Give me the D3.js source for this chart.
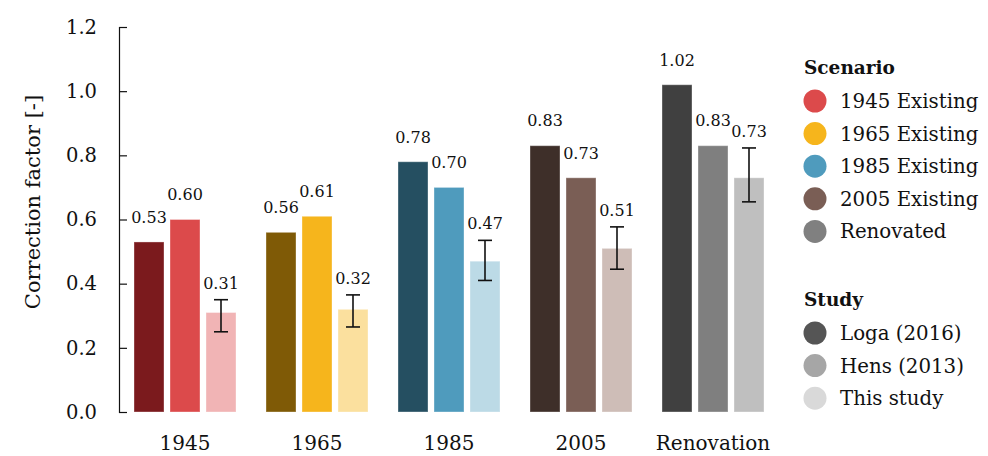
<!DOCTYPE html>
<html>
<head>
<meta charset="utf-8">
<script src="https://cdn.jsdelivr.net/npm/d3@7"></script>
<style>
  body { margin: 0; background: #fff; }
  svg text { font-family: "DejaVu Serif", serif; fill: #111; }
</style>
</head>
<body>
<div id="chart"></div>
<script>
// data
var groups = ["1945", "1965", "1985", "2005", "Renovation"];
var studies = ["Loga (2016)", "Hens (2013)", "This study"];
var loga  = [0.53, 0.56, 0.78, 0.83, 1.02];
var hens  = [0.60, 0.61, 0.70, 0.73, 0.83];
var ours  = [0.31, 0.32, 0.47, 0.51, 0.73];
var errLow  = [0.25, 0.265, 0.41, 0.445, 0.655];
var errHigh = [0.35, 0.365, 0.535, 0.577, 0.823];
var yTicks = [0, 0.2, 0.4, 0.6, 0.8, 1.0, 1.2];

// colours per group, one per study (dark, mid, light)
var groupColors = [
  ["#7b1a1d", "#dc4a4b", "#f1b4b5"],
  ["#7f5a06", "#f6b51c", "#fbe09e"],
  ["#254f61", "#4f9bbd", "#bcdae6"],
  ["#3e2f29", "#7a5e55", "#cebdb7"],
  ["#404040", "#7f7f7f", "#bfbfbf"]
];
var scenarioLabels = ["1945 Existing", "1965 Existing", "1985 Existing", "2005 Existing", "Renovated"];
var scenarioColors = ["#dc4a4b", "#f6b51c", "#4f9bbd", "#7a5e55", "#808080"];
var studyColors = ["#555555", "#a6a6a6", "#d9d9d9"];

var width = 988, height = 456;
var svg = d3.select("#chart").append("svg")
    .attr("width", width)
    .attr("height", height);

// scales
var x0 = d3.scaleBand()
    .domain(groups)
    .range([118, 780])
    .paddingInner(30 / 132)
    .paddingOuter(16 / 132);
var x1 = d3.scaleBand()
    .domain(d3.range(3))
    .range([0, x0.bandwidth()])
    .paddingInner(6 / 36);
var y = d3.scaleLinear().domain([0, 1.2]).range([412, 27]);

// y axis, ticks pointing inward
var yAxis = svg.append("g")
    .attr("class", "axis axis--y")
    .attr("transform", "translate(119,0)")
    .call(d3.axisLeft(y).tickValues(yTicks).tickSize(-8).tickPadding(22)
          .tickFormat(d3.format(".1f")));
yAxis.selectAll("path, line").attr("stroke", "#111").attr("stroke-width", 1.2);
yAxis.selectAll("text").attr("font-size", 19.5).attr("font-family", "DejaVu Serif").attr("fill", "#111");

svg.append("text")
    .attr("transform", "translate(40,202) rotate(-90)")
    .attr("text-anchor", "middle")
    .attr("font-size", 21)
    .text("Correction factor [-]");

// x axis labels only
var xAxis = svg.append("g")
    .attr("class", "axis axis--x")
    .attr("transform", "translate(0,450)")
    .call(d3.axisBottom(x0).tickSize(0).tickPadding(0));
xAxis.select(".domain").remove();
xAxis.selectAll("text").attr("font-size", 20).attr("font-family", "DejaVu Serif")
    .attr("fill", "#111").attr("dy", "0");

// turn data into rows
var rows = [];
groups.forEach(function(g, i) {
  [loga[i], hens[i], ours[i]].forEach(function(v, j) {
    rows.push({group: g, gi: i, study: j, value: v});
  });
});

var bars = svg.append("g").attr("class", "bars");
bars.selectAll("rect").data(rows).enter().append("rect")
    .attr("x", function(d) { return x0(d.group) + x1(d.study); })
    .attr("width", x1.bandwidth())
    .attr("y", function(d) { return y(d.value); })
    .attr("height", function(d) { return y(0) - y(d.value); })
    .attr("fill", function(d) { return groupColors[d.gi][d.study]; })
    .attr("stroke", "#fff")
    .attr("stroke-opacity", 0.35)
    .attr("stroke-width", 1);

// error bars on this study
var errs = svg.append("g").attr("class", "errors");
groups.forEach(function(g, i) {
  var cx = x0(g) + x1(2) + x1.bandwidth() / 2;
  var e = errs.append("g").attr("stroke", "#111").attr("stroke-width", 1.6);
  e.append("line").attr("x1", cx).attr("x2", cx).attr("y1", y(errLow[i])).attr("y2", y(errHigh[i]));
  e.append("line").attr("x1", cx - 7).attr("x2", cx + 7).attr("y1", y(errLow[i])).attr("y2", y(errLow[i]));
  e.append("line").attr("x1", cx - 7).attr("x2", cx + 7).attr("y1", y(errHigh[i])).attr("y2", y(errHigh[i]));
});

// value labels
svg.append("g").attr("class", "barlabels")
  .selectAll("text").data(rows).enter().append("text")
    .attr("x", function(d) { return x0(d.group) + x1(d.study) + x1.bandwidth() / 2; })
    .attr("y", function(d) {
      return d.study === 2 ? y(errHigh[d.gi]) - 11 : y(d.value + 0.06);
    })
    .attr("text-anchor", "middle")
    .attr("font-size", 16)
    .text(function(d) { return d3.format(".2f")(d.value); });

// legend
function renderLegend(top, title, labels, colors) {
  var lg = svg.append("g").attr("class", "legend").attr("transform", "translate(0," + top + ")");
  lg.append("text")
      .attr("x", 804).attr("y", 0).attr("dy", "0.35em")
      .attr("font-size", 18.5).attr("font-weight", "bold")
      .text(title);
  var item = lg.selectAll("g.item").data(labels).enter().append("g")
      .attr("class", "item")
      .attr("transform", function(d, i) { return "translate(0," + (33 + 32.6 * i) + ")"; });
  item.append("circle").attr("cx", 815).attr("cy", 0).attr("r", 11.5)
      .attr("fill", function(d, i) { return colors[i]; });
  item.append("text").attr("x", 840).attr("y", 0).attr("dy", "0.35em")
      .attr("font-size", 19.8)
      .text(function(d) { return d; });
}
renderLegend(68, "Scenario", scenarioLabels, scenarioColors);
renderLegend(300, "Study", studies, studyColors);
</script>
</body>
</html>
